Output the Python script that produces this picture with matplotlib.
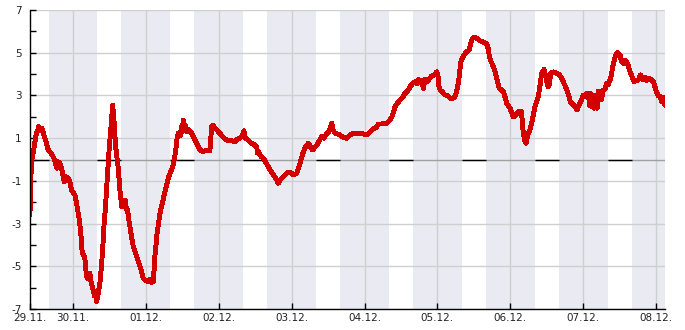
import numpy as np
import matplotlib.pyplot as plt

# hours since 29.11. 00:00
hours = [9.9, 10.0, 10.4, 10.9, 11.3, 11.7, 12.1, 12.5, 12.8, 13.3, 13.8, 14.3, 15.0, 15.9,
         16.8, 17.5, 18.1, 18.7, 19.1, 19.8, 20.4, 21.2, 21.6, 22.0, 22.6, 23.0, 23.6, 24.7,
         25.6, 26.2, 26.7, 27.1, 27.7, 28.0, 28.5, 29.0, 29.6, 30.1, 30.7, 31.1, 31.4, 31.8,
         32.3, 32.9, 33.5, 33.9, 34.3, 34.7, 35.1, 35.4, 35.7, 36.0, 36.4, 36.7, 37.1, 37.4,
         37.6, 37.9, 38.1, 38.5, 38.9, 39.2, 39.5, 40.1, 40.5, 41.2, 41.6, 42.0, 42.4, 42.8,
         43.3, 43.9, 44.4, 45.0, 45.6, 46.1, 46.7, 47.2, 47.9, 48.8, 49.4, 50.0, 50.5, 51.0,
         51.7, 52.7, 53.8, 54.5, 55.4, 56.1, 56.9, 57.4, 57.9, 58.3, 58.7, 59.3, 59.8, 60.1,
         60.3, 60.7, 61.1, 61.5, 62.2, 63.1, 63.9, 64.8, 65.8, 66.9, 67.8, 69.1, 69.7, 70.1,
         70.8, 71.6, 72.4, 73.4, 74.6, 76.0, 77.4, 78.2, 79.0, 79.7, 80.3, 80.8, 81.2, 82.0,
         82.9, 83.6, 84.5, 84.8, 85.0, 85.9, 86.7, 87.6, 88.3, 89.2, 90.0, 90.9, 91.6, 92.3,
         93.3, 94.0, 94.9, 95.8, 96.6, 97.7, 98.3, 98.8, 99.3, 99.9, 100.6, 101.5, 102.2, 102.9,
         103.5, 104.3, 105.0, 105.9, 106.7, 107.6, 108.3, 109.2, 109.6, 110.3, 111.1, 111.9, 112.9, 114.1,
         114.9, 115.8, 117.2, 118.5, 119.5, 120.7, 121.5, 122.4, 123.1, 124.0, 124.5, 125.7, 126.4, 127.3,
         128.1, 129.0, 129.5, 130.0, 130.9, 131.7, 132.5, 133.3, 134.2, 135.0, 135.8, 136.6, 137.3, 137.8,
         138.3, 138.8, 139.4, 139.9, 140.5, 141.2, 142.1, 142.9, 143.8, 144.2, 144.5, 144.9, 145.7, 146.5,
         147.3, 148.1, 149.0, 149.8, 150.3, 150.9, 151.3, 151.7, 152.4, 153.1, 153.7, 154.5, 154.9, 155.3,
         155.7, 156.4, 157.2, 158.0, 159.0, 160.2, 160.7, 161.1, 161.6, 162.4, 163.0, 163.5, 164.0, 164.4,
         164.9, 165.7, 166.3, 166.8, 167.4, 167.9, 168.4, 169.0, 169.5, 170.6, 171.2, 171.7, 172.0, 172.3,
         172.7, 173.2, 173.5, 173.9, 174.5, 175.0, 175.6, 176.1, 176.6, 177.2, 177.8, 178.3, 178.8, 179.1,
         179.6, 180.0, 180.4, 180.8, 181.1, 181.3, 182.1, 183.3, 184.0, 184.9, 185.7, 186.6, 187.2, 187.7,
         188.7, 189.3, 189.9, 190.5, 190.9, 191.6, 192.0, 192.6, 193.1, 193.7, 194.1, 194.4, 194.8, 195.2,
         195.6, 195.9, 196.2, 196.6, 197.0, 197.5, 198.0, 198.6, 199.2, 199.7, 200.2, 200.8, 201.3, 201.7,
         202.1, 202.5, 203.2, 203.8, 204.1, 204.6, 205.2, 205.8, 206.3, 206.9, 207.4, 208.1, 208.7, 209.4,
         210.1, 210.5, 210.9, 211.4, 211.8, 212.3, 212.8, 213.4, 214.2, 215.1, 215.6, 216.0, 216.6, 217.3,
         217.8, 218.3, 218.6, 218.9]

temps = [-2.6, -1.6, -0.1, 0.3, 0.6, 1.0, 1.24, 1.4, 1.54, 1.35, 1.45, 1.24, 0.91, 0.45,
         0.3, 0.13, -0.05, -0.41, -0.1, -0.18, -0.5, -1.04, -0.8, -0.83, -0.9, -1.04, -1.43, -1.66,
         -2.36, -2.9, -3.61, -4.39, -4.5, -4.7, -5.49, -5.6, -5.33, -5.8, -6.1, -6.4, -6.2, -6.66,
         -6.3, -5.8, -4.86, -4.0, -2.99, -2.3, -1.43, -0.8, -0.18, 0.6, 1.23, 1.8, 2.55, 2.0,
         1.7, 1.0, 0.6, 0.1, -0.34, -0.9, -1.43, -2.21, -2.1, -1.9, -2.3, -2.36, -2.8, -3.14,
         -3.6, -4.08, -4.3, -4.55, -4.8, -5.0, -5.3, -5.56, -5.65, -5.72, -5.6, -5.75, -5.72, -4.55,
         -3.5, -2.5, -1.82, -1.4, -0.88, -0.6, -0.34, 0.0, 0.45, 1.0, 1.23, 1.1, 1.54, 1.3,
         1.85, 1.4, 1.6, 1.3, 1.4, 1.23, 1.0, 0.76, 0.45, 0.37, 0.42, 0.42, 1.54, 1.6,
         1.46, 1.35, 1.23, 1.05, 0.91, 0.88, 0.84, 0.95, 0.99, 1.1, 1.35, 1.0, 0.99, 0.85,
         0.76, 0.7, 0.6, 0.3, 0.37, 0.15, 0.06, -0.15, -0.34, -0.55, -0.72, -0.9, -1.11, -0.95,
         -0.8, -0.7, -0.6, -0.62, -0.72, -0.65, -0.4, -0.18, 0.1, 0.37, 0.6, 0.76, 0.6, 0.45,
         0.55, 0.68, 0.85, 1.07, 1.0, 1.23, 1.3, 1.7, 1.4, 1.23, 1.2, 1.15, 1.05, 0.99,
         1.1, 1.2, 1.23, 1.23, 1.2, 1.15, 1.25, 1.38, 1.46, 1.5, 1.66, 1.66, 1.7, 1.7,
         1.8, 2.0, 2.2, 2.47, 2.65, 2.79, 2.9, 3.1, 3.2, 3.41, 3.55, 3.64, 3.55, 3.75,
         3.64, 3.7, 3.33, 3.75, 3.64, 3.75, 3.91, 3.95, 4.11, 3.9, 3.4, 3.25, 3.15, 3.02,
         3.0, 2.87, 2.87, 2.94, 3.2, 3.57, 4.1, 4.58, 4.8, 4.97, 5.05, 5.13, 5.4, 5.6,
         5.7, 5.72, 5.65, 5.56, 5.5, 5.41, 5.2, 4.81, 4.6, 4.35, 4.1, 3.8, 3.5, 3.33,
         3.28, 3.18, 2.9, 2.63, 2.5, 2.4, 2.2, 2.0, 2.05, 2.24, 2.2, 2.24, 1.6, 1.23,
         0.9, 0.76, 1.0, 1.23, 1.4, 1.7, 2.1, 2.47, 2.7, 2.94, 3.5, 4.04, 4.15, 4.22,
         3.9, 3.64, 3.4, 3.49, 3.8, 4.04, 4.1, 4.04, 4.0, 3.8, 3.55, 3.25, 3.0, 2.71,
         2.55, 2.5, 2.32, 2.5, 2.63, 2.85, 3.02, 2.95, 3.1, 3.02, 2.5, 3.1, 2.47, 2.9,
         2.4, 3.02, 2.6, 2.4, 3.2, 3.1, 2.8, 3.25, 3.3, 3.57, 3.5, 3.72, 4.0, 4.35,
         4.6, 4.81, 5.0, 4.95, 4.89, 4.6, 4.5, 4.65, 4.58, 4.35, 4.11, 3.85, 3.64, 3.7,
         3.72, 3.85, 3.96, 3.75, 3.72, 3.85, 3.7, 3.8, 3.75, 3.64, 3.4, 3.18, 3.0, 2.94,
         2.71, 2.9, 2.6, 2.55]

day_labels = ['29.11.', '30.11.', '01.12.', '02.12.', '03.12.', '04.12.',
              '05.12.', '06.12.', '07.12.', '08.12.']
y_major = [-7, -5, -3, -1, 1, 3, 5, 7]
y_minor = [-6, -4, -2, 0, 2, 4, 6]

x_start, x_end = 9.9, 218.9

fig = plt.figure(figsize=(6.85, 3.30), dpi=100)
ax = fig.add_axes([30 / 685, 21 / 330, 635 / 685, 299 / 330])

# night shading 16:00 - 08:00, daytime zero line black
for d in range(len(day_labels)):
    ax.axvspan(24 * d + 16, 24 * d + 32, color='#eaeaf2', lw=0, zorder=0)
    ax.hlines(0, max(24 * d + 8, x_start), 24 * d + 16, color='black', lw=1, zorder=1.5)
ax.axhline(0, color='#a0a0a0', lw=1, zorder=1.2)

for v in y_major:
    ax.axhline(v, color='#cfcfcf', lw=1, zorder=1)
for d in range(1, len(day_labels)):
    ax.axvline(24 * d, color='#cfcfcf', lw=1, zorder=1)

ax.plot(hours, temps, color='#d40000', lw=2.8, zorder=3, antialiased=False)

ax.set_xlim(x_start, x_end)
ax.set_ylim(-7, 7)

ticks = [x_start] + [24 * d for d in range(1, len(day_labels))]
ax.set_xticks(ticks)
ax.set_xticklabels(day_labels)
ax.set_yticks(y_major)
ax.set_yticks(y_minor, minor=True)
ax.set_yticklabels([str(v) for v in y_major])

ax.tick_params(axis='both', which='both', direction='in', length=4, width=1,
               labelsize=7.5, colors='black', labelcolor='#222222')
ax.tick_params(axis='x', pad=3)
ax.tick_params(axis='y', pad=6)

for s in ['top', 'right']:
    ax.spines[s].set_visible(False)
for s in ['left', 'bottom']:
    ax.spines[s].set_color('black')
    ax.spines[s].set_linewidth(1)
    ax.spines[s].set_zorder(4)

fig.savefig('out.png', dpi=100)
